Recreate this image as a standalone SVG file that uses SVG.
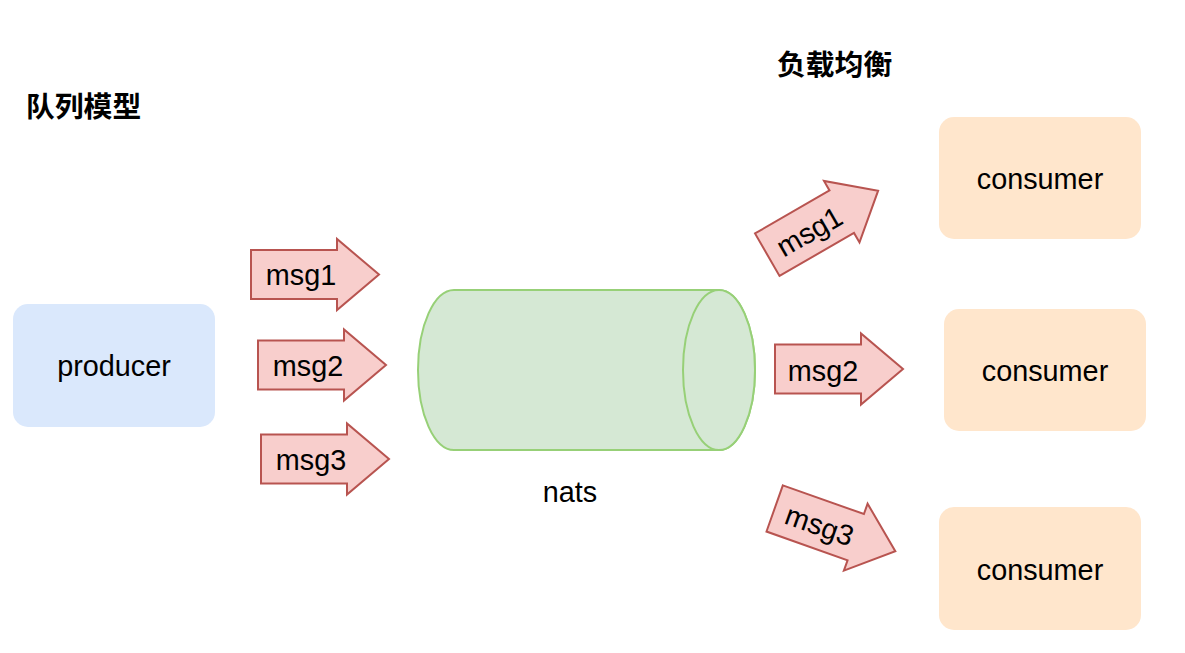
<svg xmlns="http://www.w3.org/2000/svg" width="1185" height="653" viewBox="0 0 1185 653">
  <defs>
    <style>
      .lbl { font-family: "Liberation Sans", Arial, sans-serif; font-size: 28.8px; fill: #000000; }
      .title { font-family: "Liberation Sans", "Noto Sans CJK SC", sans-serif; font-size: 28.8px; font-weight: bold; fill: #000000; }
      .producer { fill: #dae8fc; stroke: none; }
      .consumer { fill: #ffe6cc; stroke: none; }
      .arrow { fill: #f8cecc; stroke: #b85450; stroke-width: 2; stroke-linejoin: miter; }
      .cyl { fill: #d5e8d4; stroke: #97d077; stroke-width: 2; }
    </style>
    <polygon id="arrowShape" points="-64,-24.5 22,-24.5 22,-35.5 64,0 22,35.5 22,24.5 -64,24.5"/>
  </defs>
  <rect width="1185" height="653" fill="#ffffff"/>

  <g id="title-queue">
    <text class="title" x="26" y="117">队列模型</text>
  </g>
  <g id="title-lb">
    <text class="title" x="777" y="75">负载均衡</text>
  </g>

  <g id="producer">
    <rect class="producer" x="13" y="304" width="202" height="123" rx="15" ry="15"/>
    <text class="lbl" x="114" y="376" text-anchor="middle">producer</text>
  </g>

  <g id="nats">
    <path class="cyl" d="M454,290 L719,290 A36,80 0 0 1 719,450 L454,450 A36,80 0 0 1 454,290 Z"/>
    <ellipse class="cyl" cx="719" cy="370" rx="36" ry="80"/>
    <text class="lbl" x="570" y="502" text-anchor="middle">nats</text>
  </g>

  <g id="consumer1">
    <rect class="consumer" x="939" y="117" width="202" height="122" rx="15" ry="15"/>
    <text class="lbl" x="1040" y="189" text-anchor="middle">consumer</text>
  </g>
  <g id="consumer2">
    <rect class="consumer" x="944" y="309" width="202" height="122" rx="15" ry="15"/>
    <text class="lbl" x="1045" y="381" text-anchor="middle">consumer</text>
  </g>
  <g id="consumer3">
    <rect class="consumer" x="939" y="507" width="202" height="123" rx="15" ry="15"/>
    <text class="lbl" x="1040" y="580" text-anchor="middle">consumer</text>
  </g>

  <g id="connectors">
    <g id="in-msg1" transform="translate(315,274.5)">
      <use href="#arrowShape" class="arrow"/>
      <text class="lbl" x="-14" y="10.5" text-anchor="middle">msg1</text>
    </g>
    <g id="in-msg2" transform="translate(322,365)">
      <use href="#arrowShape" class="arrow"/>
      <text class="lbl" x="-14" y="10.5" text-anchor="middle">msg2</text>
    </g>
    <g id="in-msg3" transform="translate(325,459)">
      <use href="#arrowShape" class="arrow"/>
      <text class="lbl" x="-14" y="10.5" text-anchor="middle">msg3</text>
    </g>
    <g id="out-msg1" transform="translate(822.7,222.7) rotate(-30)">
      <use href="#arrowShape" class="arrow"/>
      <text class="lbl" x="-16" y="11" text-anchor="middle">msg1</text>
    </g>
    <g id="out-msg2" transform="translate(839,369)">
      <use href="#arrowShape" class="arrow"/>
      <text class="lbl" x="-16" y="12" text-anchor="middle">msg2</text>
    </g>
    <g id="out-msg3" transform="translate(835,529.8) rotate(19.5)">
      <use href="#arrowShape" class="arrow"/>
      <text class="lbl" x="-16" y="11" text-anchor="middle">msg3</text>
    </g>
  </g>
</svg>
